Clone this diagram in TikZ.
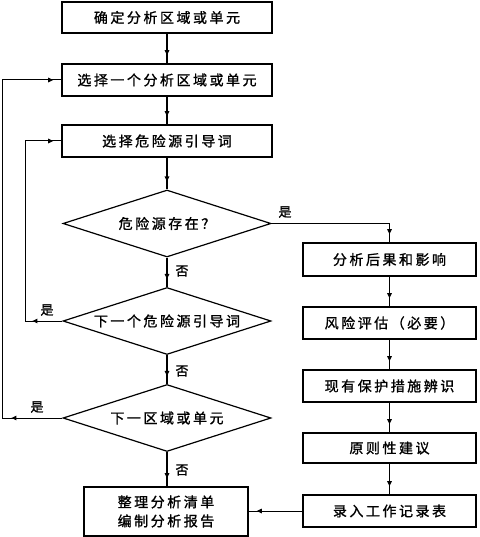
\documentclass[tikz,border=0pt]{standalone}
\usepackage{fontspec}
\setmainfont{Noto Sans CJK SC}[LetterSpace=18, FakeBold=1.2]
\usetikzlibrary{shapes.geometric,decorations.markings,arrows.meta}
\tikzset{
  box/.style={draw, line width=1.6pt, inner sep=0pt, font=\fontsize{14pt}{19pt}\selectfont, align=center},
  dia/.style={draw, diamond, aspect=3.1, line width=1.2pt, inner sep=0pt, minimum width=208, minimum height=67, font=\fontsize{14pt}{16pt}\selectfont},
  lbl/.style={inner sep=0pt, font=\fontsize{13pt}{15pt}\selectfont},
  tipend/.style={postaction={decorate}, decoration={markings, mark=at position -8pt with {\arrow{Triangle[length=5pt,width=4.5pt]}}}},
  flow/.style={line width=1.4pt, tipend},
  hflow/.style={line width=1pt, tipend},
  loopa/.style={line width=1pt, postaction={decorate}, decoration={markings,
     mark=at position 30pt with {\arrow{Triangle[length=5pt,width=4.5pt]}},
     mark=at position -8pt with {\arrow{Triangle[length=5pt,width=4.5pt]}}}},
  loopb/.style={line width=1pt, postaction={decorate}, decoration={markings,
     mark=at position 51pt with {\arrow{Triangle[length=5pt,width=4.5pt]}},
     mark=at position -8pt with {\arrow{Triangle[length=5pt,width=4.5pt]}}}}
}
\begin{document}
\begin{tikzpicture}[x=1pt,y=-1pt]
\useasboundingbox[fill=white] (0,0) rectangle (479,537);
% left column
\node[box, minimum width=210, minimum height=31] (b1) at (167,17.5) {确定分析区域或单元};
\node[box, minimum width=210, minimum height=32] (b2) at (167,80) {选择一个分析区域或单元};
\node[box, minimum width=210, minimum height=32] (b3) at (167,141) {选择危险源引导词};
\node[dia] (d1) at (167,223.5) {危险源存在？};
\node[dia] (d2) at (167,321) {下一个危险源引导词};
\node[dia] (d3) at (167,418) {下一区域或单元};
\node[box, minimum width=164, minimum height=49] (fin) at (166,511.5) {整理分析清单\\编制分析报告};
% right column
\node[box, minimum width=173, minimum height=33] (rA) at (389.5,259.5) {分析后果和影响};
\node[box, minimum width=173, minimum height=32] (rB) at (389.5,323) {风险评估（必要）};
\node[box, minimum width=173, minimum height=32] (rC) at (389.5,386) {现有保护措施辨识};
\node[box, minimum width=173, minimum height=30] (rD) at (389.5,448) {原则性建议};
\node[box, minimum width=173, minimum height=32] (rE) at (389.5,511) {录入工作记录表};
% labels
\node[lbl] (y1) at (285,212) {是};
\node[lbl] (y2) at (47,310) {是};
\node[lbl] (y3) at (37,407) {是};
\node[lbl] (n1) at (182,271) {否};
\node[lbl] (n2) at (182,371) {否};
\node[lbl] (n3) at (182,470) {否};
% connectors
\draw[flow] (b1) -- (b2);
\draw[flow] (b2) -- (b3);
\draw[flow] (b3) -- (d1);
\draw[flow] (d1) -- (d2);
\draw[flow] (d2) -- (d3);
\draw[flow] (d3.south) -- (fin.north -| d3.south);
\draw[hflow] (d1.east) -| (rA.north);
\draw[flow] (rA) -- (rB);
\draw[flow] (rB) -- (rC);
\draw[flow] (rC) -- (rD);
\draw[flow] (rD) -- (rE);
\draw[hflow] (rE.west) -- (fin.east |- rE.west);
\draw[loopa] (d2.west) -- ++(-37,0) |- (b3.west);
\draw[loopb] (d3.west) -- ++(-60,0) |- (b2.west);
\end{tikzpicture}
\end{document}
